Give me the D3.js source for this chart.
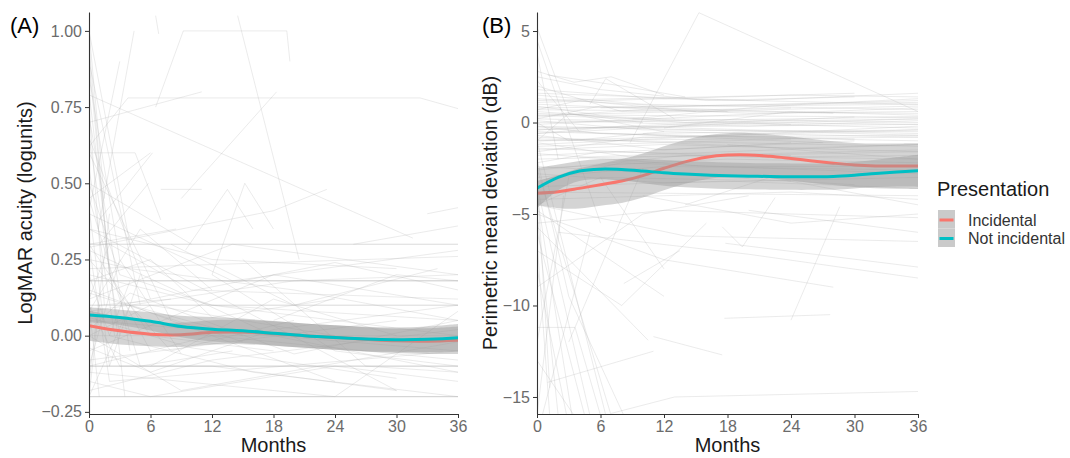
<!DOCTYPE html>
<html>
<head>
<meta charset="utf-8">
<script src="https://cdn.jsdelivr.net/npm/d3@7"></script>
<style>
	body { margin: 0; background: #fff; }
	svg text { font-family: "Liberation Sans", Arial, sans-serif; }
</style>
</head>
<body>
<div id="containerChart"></div>
<script>
// tick values for both panels
var monthTicks = [0, 6, 12, 18, 24, 30, 36];
var acuityTicks = [-0.25, 0, 0.25, 0.5, 0.75, 1];
var mdTicks = [-15, -10, -5, 0, 5];
var groups = ["Incidental", "Not incidental"];

// individual eyes, LogMAR acuity : month, value, month, value ...
var acuityPatients = [
	[0, 0.3, 36, 0.3], [0, 0.3, 36, 0.3],
	[0, 0.18, 36, 0.18], [0, 0.18, 36, 0.18], [0, 0.18, 36, 0.18],
	[0, 0.1, 36, 0.1], [0, 0.1, 36, 0.1],
	[0, -0.1, 36, -0.1], [0, -0.1, 36, -0.1], [0, -0.1, 36, -0.1],
	[0, -0.2, 36, -0.2], [0, -0.2, 36, -0.2], [0, -0.2, 36, -0.2],
	[0, 0.79, 31.6, 0.32],
	[0, 0.62, 3.8, 0.78, 32.3, 0.78, 36, 0.745],
	[0, 0.7, 11, 0.8],
	[0, 0.6, 4.5, 0.6, 7, 0.38],
	[7, 0.48, 11, 0.48],
	[0, 0.41, 3, 0.9],
	[0.9, 0.35, 4.4, 1.0],
	[6.5, 0.75, 9.2, 1.0, 19.3, 1.0, 19.6, 0.9],
	[6.5, 1.05, 6.8, 0.99],
	[14.5, 1.05, 20.5, 0.25],
	[0, 0.29, 18, 0.41, 23.2, 0.48],
	[33, 0.4, 36, 0.42],
	[25.8, 0.3, 36, 0.36],
	[9, 0.45, 13, 0.6, 18.3, 0.8],
	[0, 0.95, 2, 0.2],
	[0, 1.0, 1.5, 0.45],
	[0, 0.45, 6, 0.6],
	[1, 0.3, 5.8, 0.5],
	[12, 0.2, 15.2, 0.5, 18, 0.35],
	[9.4, 0.28, 13.5, 0.48, 16, 0.35],
	[0, 0.3, 8.5, 0.35],
	[1, 0.38, 6.2, 0.6],
	[0, 0.9, 5, 0.1],
	[0, 0.72, 4, -0.05],
	[0, 0.65, 6, 0.12],
	[0, 0.85, 3, 0.25],
	[0, 0.55, 2.5, 0.0],
	[0, 1.0, 4, 0.3],
	[0, 0.2, 12, 0.1, 36, 0.05],
	[0, 0.0, 6, 0.1, 24, 0.0],
	[0, -0.1, 12, 0.0, 36, -0.08],
	[0, 0.3, 6, 0.0, 18, -0.05],
	[0, 0.1, 3, -0.1, 12, -0.1, 30, -0.18],
	[0, -0.2, 4, 0.1, 15, 0.0],
	[0, 0.5, 3, 0.2, 12, 0.1, 36, 0.0],
	[0, 0.25, 8, -0.05, 20, 0.05],
	[0, 0.05, 36, -0.05],
	[0, -0.05, 18, 0.2, 36, 0.1],
	[0, 0.15, 24, -0.15],
	[0, 0.35, 12, 0.25, 30, 0.22],
	[0, -0.15, 6, -0.2, 24, -0.1, 36, -0.15],
	[0, 0.22, 36, 0.26],
	[0, 0.0, 9, -0.18, 36, -0.02],
	[0, 0.12, 2, 0.3, 10, 0.15, 36, 0.12],
	[0, 0.6, 8, 0.05],
	[0, 0.45, 5, -0.1, 14, -0.05],
	[0, 0.08, 20, 0.18, 36, 0.2],
	[0, -0.08, 30, 0.05],
	[2, 0.0, 16, -0.12, 36, -0.2],
	[0, 0.28, 18, 0.0, 36, -0.12],
	[0, 0.18, 6, 0.25, 12, 0.06, 24, 0.12],
	[0, -0.18, 12, -0.08, 36, 0.02],
	[0, 0.02, 4, 0.14, 20, -0.06, 36, 0.05],
	[3, 0.1, 24, 0.24, 36, 0.15],
	[6, -0.1, 18, 0.12, 30, 0.0],
	[0, 0.4, 14, 0.18, 36, 0.28],
	[0, -0.12, 24, -0.2],
	[0, 0.06, 10, -0.04, 30, -0.14],
	[12, 0.2, 24, -0.05, 36, -0.1],
	[0, 0.0, 36, 0.0],
	[0, 0.9, 2, 0.2, 6, -0.05],
	[0, 0.75, 1.5, 0.1],
	[0, 0.3, 2, -0.15, 36, -0.05],
	[18, 0.05, 30, 0.2, 36, 0.18],
	[0, -0.2, 1, 0.1, 8, 0.12],
	[0, 0.14, 15, -0.02],
	[0, 0.5, 10, 0.3],
	[0, 0.25, 4, 0.22, 20, 0.15, 36, 0.05],
	[8, 0.3, 20, 0.1, 34, 0.22],
	[0, -0.04, 6, -0.12, 18, 0.02, 36, 0.1],
	[0, 0.35, 30, -0.18],
	[0, 0.08, 5, 0.35, 12, 0.15],
	[24, -0.2, 36, 0.08],
	[0, 0.2, 2, 0.0, 4, 0.18],
	[0, -0.1, 3, 0.25, 9, -0.06],
	[15, 0.25, 27, -0.1, 36, -0.12],
	[0, 0.65, 3, 0.0],
	[0, 0.1, 1, -0.2],
	[0, 0.42, 2, -0.1, 5, 0.2],
	[0, -0.15, 2, 0.4],
	[0, 0.8, 3.5, -0.2],
	[0, 0.12, 14, 0.3, 36, 0.2]
];

// individual eyes, perimetric mean deviation (dB)
var mdPatients = [
	[0, 0.5, 12, 0.2, 36, 0.0],
	[0, -0.5, 18, -0.8, 36, -1.0],
	[0, -1.0, 24, -0.6, 36, -0.4],
	[0, 0.0, 36, 0.3],
	[0, -1.5, 12, -1.2, 36, -1.6],
	[0, 1.0, 20, 0.5, 36, 0.6],
	[0, -2.0, 36, -1.5],
	[0, -0.2, 6, -0.6, 30, -0.9],
	[0, 0.8, 36, 1.0],
	[0, -0.8, 24, -1.4, 36, -1.2],
	[0, 1.5, 10, 1.0, 36, 0.7],
	[0, -2.5, 18, -2.0, 36, -2.2],
	[0, 0.3, 12, 0.8, 28, 0.5],
	[0, -1.2, 36, -0.2],
	[0, -0.6, 8, -0.2, 20, -0.4, 36, -0.6],
	[0, -1.8, 30, -1.0],
	[0, 0.2, 36, -0.3],
	[0, -3.0, 12, -2.4, 36, -2.6],
	[0, 1.2, 24, 1.5, 36, 1.4],
	[0, -0.3, 36, -0.1],
	[0, -2.2, 6, -1.6, 24, -1.8],
	[0, 0.6, 14, 0.0, 36, 0.2],
	[0, -1.0, 36, -0.8],
	[2, 0.1, 20, -0.2, 36, 0.1],
	[0, -0.4, 30, 0.3],
	[0, 1.8, 12, 1.3, 36, 1.0],
	[0, -1.6, 10, -0.8, 36, -0.7],
	[0, 0.9, 6, 0.4, 36, 0.3],
	[0, -3.5, 18, -3.2, 36, -3.6],
	[0, -3.8, 36, -4.0],
	[0, -4.2, 24, -3.8, 36, -4.2],
	[0, -2.8, 12, -3.3, 36, -3.0],
	[0, -0.1, 18, 0.4, 36, 0.8],
	[0, 0.4, 24, -0.1],
	[3, -0.5, 27, -1.1],
	[0, -1.4, 20, -1.9, 36, -1.8],
	[6, 0.8, 30, 1.1, 36, 1.2],
	[0, 2.0, 8, 0.6, 24, 0.8],
	[0, 2.5, 6, 1.8, 16, 1.2, 30, 1.4],
	[1, 2.6, 8, 2.0, 14, 1.4],
	[0, 0.0, 3, -1.0, 12, -0.5, 36, -0.8],
	[12, -0.3, 24, 0.6, 36, 0.4],
	[18, -1.2, 36, -2.0],
	[9, 0.2, 22, 0.9, 36, 1.3],
	[0, 0.7, 4, 1.2, 15, 0.6],
	[0, -1.0, 3, 0.5, 10, 0.0],
	[0, -0.7, 12, -1.5, 24, -1.1],
	[0, 1.1, 30, 1.6],
	[0, -0.9, 36, -1.3],
	[0, 0.1, 10, -0.4, 36, -0.5],
	[0, -2.6, 14, -1.8, 36, -2.0],
	[0, 0.4, 36, 0.9],
	[0, -1.3, 24, -0.9],
	[0, -0.2, 30, -0.6, 36, -0.7],
	[4, -1.9, 36, -1.2],
	[0, 1.3, 12, 0.9, 36, 1.1],
	[0, -3.2, 8, -2.2, 36, -2.8],
	[0, -0.6, 20, 0.0, 36, -0.1],
	[0, 0.7, 36, 0.5],
	[0, -1.7, 16, -2.4, 36, -2.4],
	[10, -0.6, 36, -0.4],
	[0, -4.5, 6, -3.0, 24, -3.2],
	[0, 1.6, 20, 1.2, 36, 1.6],
	[0, -2.4, 30, -3.4],
	[0, 0.2, 6, 0.9, 18, 0.6],
	[0, -0.4, 36, 0.2],
	[0, -1.1, 9, -1.9, 36, -1.6],
	[0, -5.5, 12, -4.8, 36, -5.2],
	[0, 5.2, 3, 0.5, 12, -0.5],
	[8.8, -1.1, 15.3, 6.0, 36, 0.6],
	[0, 2.3, 4, -0.5],
	[0, 2.8, 3.5, 2.2, 7, 2.5, 12, 1.5],
	[5, 1.0, 6.5, 2.4, 13, 0.2],
	[0, 3.8, 2, -2.0],
	[0, 4.5, 6, -5.5],
	[0, -4.0, 3.3, -16],
	[0, -3.5, 5, -16],
	[0, -2.5, 7, -16],
	[0, -5.0, 2, -16],
	[0, -1.0, 6.5, -16],
	[0, -3.0, 1.2, -14.5],
	[0, -6.0, 4.5, -16],
	[0, -8.0, 2.8, -16],
	[0, -2.0, 3, -9.5, 8.2, -16],
	[0, -12.0, 3, -3.0],
	[0, -16, 2.5, -4.0],
	[0.5, -16, 5, -6.0],
	[1, -14.2, 11, -12.5],
	[7, -15.9, 13, -15.0, 36, -14.7],
	[0, -11.2, 3.6, -11.2, 6, -16],
	[8.2, -8.8, 13.5, -7.0],
	[17.8, -6.6, 36, -7.9],
	[17.5, -5.7, 19.4, -6.8, 22.5, -4.1],
	[24, -10.8, 28.6, -4.6],
	[17.7, -10.7, 27.7, -10.5],
	[0, -5.0, 12, -7.5, 28, -9.0],
	[2, -6.0, 20, -7.2, 36, -8.5],
	[0, -4.5, 14, -6.2, 36, -6.5],
	[0, -9.0, 10, -5.0, 20, -4.0],
	[6, -3.0, 12, -8.0],
	[0, -7.0, 8, -10.0, 16, -5.5],
	[10, -4.0, 24, -5.5, 36, -5.0],
	[20, -4.8, 36, -6.0],
	[3, -12.0, 10, -2.5],
	[14, -4.5, 22, -3.0, 36, -4.5],
	[0, -6.5, 1.2, -16],
	[0, -13.0, 3.5, -16],
	[0, -5.7, 10.5, -11.9],
	[0, -4.8, 12, -9.5],
	[11, -11.7, 17.5, -12.7]
];

// loess fits with confidence half-widths
var acuityFitMonths = [0, 3, 6, 9, 12, 15, 18, 21, 24, 27, 30, 33, 36];
var acuityIncidental = [0.033, 0.016, 0.005, 0.003, 0.011, 0.012, 0.007, 0.0, -0.006, -0.012, -0.017, -0.018, -0.015];
var acuityIncidentalCi = [0.05, 0.045, 0.04, 0.04, 0.04, 0.04, 0.04, 0.04, 0.04, 0.04, 0.04, 0.042, 0.045];
var acuityNotIncidental = [0.068, 0.06, 0.047, 0.03, 0.021, 0.016, 0.008, 0.0, -0.006, -0.011, -0.013, -0.012, -0.007];
var acuityNotIncidentalCi = [0.025, 0.025, 0.03, 0.035, 0.04, 0.04, 0.04, 0.04, 0.04, 0.04, 0.04, 0.042, 0.045];

var mdFitMonths = [0, 2, 4, 6, 8, 10, 12, 14, 16, 18, 20, 22, 24, 26, 28, 30, 32, 34, 36];
var mdIncidental = [-3.86, -3.78, -3.6, -3.4, -3.2, -2.9, -2.5, -2.15, -1.9, -1.78, -1.77, -1.85, -1.97, -2.1, -2.22, -2.32, -2.37, -2.38, -2.38];
var mdIncidentalCi = [0.65, 0.9, 1.1, 1.15, 1.2, 1.2, 1.2, 1.2, 1.2, 1.2, 1.2, 1.2, 1.2, 1.2, 1.2, 1.2, 1.22, 1.24, 1.25];
var mdNotIncidental = [-3.59, -3.0, -2.65, -2.55, -2.57, -2.65, -2.75, -2.82, -2.87, -2.91, -2.93, -2.95, -2.96, -2.96, -2.95, -2.88, -2.78, -2.7, -2.64];
var mdNotIncidentalCi = [1.1, 0.7, 0.55, 0.55, 0.6, 0.65, 0.7, 0.72, 0.72, 0.72, 0.72, 0.72, 0.72, 0.72, 0.72, 0.72, 0.75, 0.8, 0.88];

var colors = { "Incidental": "#F8766D", "Not incidental": "#00BFC4" };

var svg = d3.select("#containerChart")
	.append("svg")
	.attr("width", 1070)
	.attr("height", 458);

// turn flat [m, v, m, v] list into point pairs
function pairs(flat) {
	var out = [];
	for (var i = 0; i < flat.length; i += 2) out.push([flat[i], flat[i + 1]]);
	return out;
}

function drawPanel(p) {
	var x = d3.scaleLinear().domain([0, 36]).range([p.left, p.right]);
	var y = d3.scaleLinear().domain(p.yDomain).range([414, 12]);

	svg.append("clipPath")
		.attr("id", p.id + "-clip")
		.append("rect")
		.attr("x", p.left).attr("y", 12)
		.attr("width", p.right - p.left).attr("height", 402);

	var g = svg.append("g").attr("clip-path", "url(#" + p.id + "-clip)");

	var line = d3.line()
		.x(function (d) { return x(d[0]); })
		.y(function (d) { return y(d[1]); });

	// spaghetti of individual eyes
	g.selectAll("path.patient")
		.data(p.patients)
		.enter()
		.append("path")
		.attr("class", "patient")
		.attr("d", function (d) { return line(pairs(d)); })
		.attr("fill", "none")
		.attr("stroke", "#b0b0b0")
		.attr("stroke-opacity", 0.26)
		.attr("stroke-width", 1);

	var smooth = d3.line()
		.curve(d3.curveCatmullRom.alpha(0.5))
		.x(function (d) { return x(d.m); })
		.y(function (d) { return y(d.v); });

	var band = d3.area()
		.curve(d3.curveCatmullRom.alpha(0.5))
		.x(function (d) { return x(d.m); })
		.y0(function (d) { return y(d.v - d.ci); })
		.y1(function (d) { return y(d.v + d.ci); });

	// ribbon then line, group by group (like geom_smooth)
	p.fits.forEach(function (f) {
		var pts = p.months.map(function (m, i) {
			return { m: m, v: f.values[i], ci: f.ci[i] };
		});
		g.append("path")
			.attr("d", band(pts))
			.attr("fill", "#999999")
			.attr("fill-opacity", 0.42);
		g.append("path")
			.attr("d", smooth(pts))
			.attr("fill", "none")
			.attr("stroke", colors[f.name])
			.attr("stroke-width", 3);
	});

	// axes
	var xAxis = svg.append("g")
		.attr("transform", "translate(0,414)")
		.call(d3.axisBottom(x).tickValues(monthTicks).tickSize(4).tickPadding(3).tickSizeOuter(0));
	var yAxis = svg.append("g")
		.attr("transform", "translate(" + p.left + ",0)")
		.call(d3.axisLeft(y).tickValues(p.ticks).tickFormat(p.format).tickSize(4).tickPadding(3).tickSizeOuter(0));

	[xAxis, yAxis].forEach(function (a) {
		a.select(".domain").attr("stroke", "#333").attr("stroke-width", 1.1);
		a.selectAll(".tick line").attr("stroke", "#333");
		a.selectAll(".tick text")
			.attr("fill", "#6b6b6b")
			.style("font-size", "16px");
	});

	svg.append("text")
		.attr("x", (p.left + p.right) / 2)
		.attr("y", 452)
		.attr("text-anchor", "middle")
		.style("font-size", "20px")
		.attr("fill", "#1a1a1a")
		.text("Months");

	svg.append("text")
		.attr("transform", "translate(" + p.titleX + ",213) rotate(-90)")
		.attr("text-anchor", "middle")
		.style("font-size", "20px")
		.attr("fill", "#1a1a1a")
		.text(p.title);

	svg.append("text")
		.attr("x", p.labelX)
		.attr("y", 33)
		.style("font-size", "22px")
		.attr("fill", "#000")
		.text(p.label);
}

drawPanel({
	id: "acuity",
	left: 89, right: 458,
	yDomain: [-0.257, 1.062],
	ticks: acuityTicks,
	format: d3.format(".2f"),
	patients: acuityPatients,
	months: acuityFitMonths,
	fits: [
		{ name: "Incidental", values: acuityIncidental, ci: acuityIncidentalCi },
		{ name: "Not incidental", values: acuityNotIncidental, ci: acuityNotIncidentalCi }
	],
	title: "LogMAR acuity (logunits)", titleX: 32,
	label: "(A)", labelX: 10
});

drawPanel({
	id: "md",
	left: 537, right: 918,
	yDomain: [-15.93, 6.04],
	ticks: mdTicks,
	format: d3.format("d"),
	patients: mdPatients,
	months: mdFitMonths,
	fits: [
		{ name: "Incidental", values: mdIncidental, ci: mdIncidentalCi },
		{ name: "Not incidental", values: mdNotIncidental, ci: mdNotIncidentalCi }
	],
	title: "Perimetric mean deviation (dB)", titleX: 497,
	label: "(B)", labelX: 482
});

// legend
var legend = svg.append("g").attr("transform", "translate(937,0)");
legend.append("text")
	.attr("x", 0).attr("y", 196)
	.style("font-size", "20px")
	.attr("fill", "#1a1a1a")
	.text("Presentation");

var key = legend.selectAll("g.key")
	.data(groups)
	.enter().append("g")
	.attr("class", "key")
	.attr("transform", function (d, i) { return "translate(0," + (210 + i * 18.5) + ")"; });

key.append("rect")
	.attr("x", 1).attr("y", 0)
	.attr("width", 17).attr("height", 18.5)
	.attr("fill", "#cacaca");
key.append("line")
	.attr("x1", 2.5).attr("x2", 16.5)
	.attr("y1", 10).attr("y2", 10)
	.attr("stroke", function (d) { return colors[d]; })
	.attr("stroke-width", 3);
key.append("text")
	.attr("x", 31).attr("y", 15.5)
	.style("font-size", "16px")
	.attr("fill", "#333")
	.text(function (d) { return d; });
</script>
</body>
</html>
